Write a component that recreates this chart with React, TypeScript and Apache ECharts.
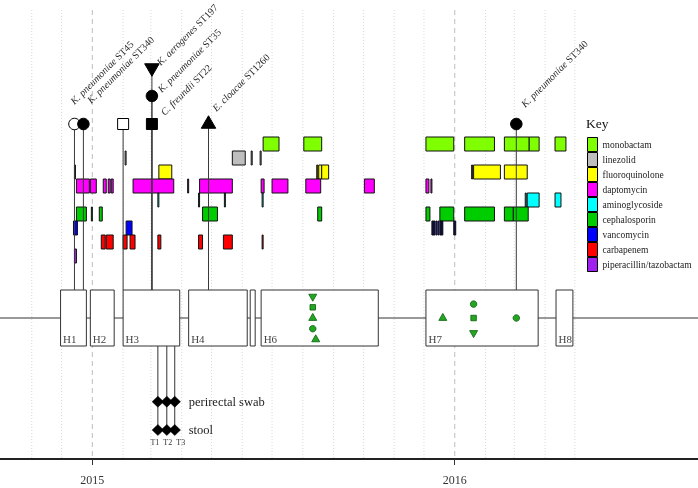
import { useEffect, useRef } from 'react';
import * as echarts from 'echarts';

const FONT = '"Liberation Serif", "Times New Roman", serif';

// ---------- axis ----------
const axisStart = '2014-09-30';
const axisEnd = '2016-09-02';
const yearTicks = ['2015-01-01', '2016-01-01'];

// ---------- hospitalisations ----------
const hospLabels = ['H1', 'H2', 'H3', 'H4', '', 'H6', 'H7', 'H8'];
const hospStart = ['2014-11-30', '2014-12-30', '2015-02-01', '2015-04-08', '2015-06-09', '2015-06-20', '2015-12-03', '2016-04-12'];
const hospEnd = ['2014-12-26', '2015-01-23', '2015-03-30', '2015-06-06', '2015-06-14', '2015-10-16', '2016-03-25', '2016-04-29'];

// ---------- antibiotics ----------
const drugs = ['monobactam', 'linezolid', 'fluoroquinolone', 'daptomycin', 'aminoglycoside', 'cephalosporin', 'vancomycin', 'carbapenem', 'piperacillin/tazobactam'];
const drugColors = ['#7fff00', '#bebebe', '#ffff00', '#ff00ff', '#00ffff', '#00cd00', '#0000ff', '#ff0000', '#a020f0'];

const monobactam = [['2015-06-22', '2015-07-08'], ['2015-08-02', '2015-08-20'], ['2015-12-03', '2015-12-31'], ['2016-01-11', '2016-02-10'], ['2016-02-20', '2016-03-16'], ['2016-03-16', '2016-03-26'], ['2016-04-11', '2016-04-22']];
const linezolid = [['2015-02-03', '2015-02-04'], ['2015-05-22', '2015-06-04'], ['2015-06-10', '2015-06-11'], ['2015-06-19', '2015-06-20']];
const fluoroquinolone = [['2014-12-14', '2014-12-15'], ['2015-03-09', '2015-03-22'], ['2015-08-15', '2015-08-16'], ['2015-08-17', '2015-08-20'], ['2015-08-20', '2015-08-27'], ['2016-01-18', '2016-01-19'], ['2016-01-20', '2016-02-16'], ['2016-02-20', '2016-03-14']];
const daptomycin = [['2014-12-16', '2014-12-29'], ['2014-12-30', '2015-01-05'], ['2015-01-12', '2015-01-15'], ['2015-01-17', '2015-01-19'], ['2015-01-20', '2015-01-22'], ['2015-02-11', '2015-03-24'], ['2015-04-07', '2015-04-08'], ['2015-04-19', '2015-05-22'], ['2015-06-20', '2015-06-23'], ['2015-07-01', '2015-07-17'], ['2015-08-04', '2015-08-19'], ['2015-10-02', '2015-10-12'], ['2015-12-03', '2015-12-06'], ['2015-12-08', '2015-12-09']];
const aminoglycoside = [['2015-03-08', '2015-03-09'], ['2015-04-18', '2015-04-19'], ['2015-05-14', '2015-05-15'], ['2015-06-21', '2015-06-22'], ['2016-03-12', '2016-03-13'], ['2016-03-14', '2016-03-26'], ['2016-04-11', '2016-04-17']];
const cephalosporin = [['2014-12-16', '2014-12-26'], ['2014-12-31', '2015-01-01'], ['2015-01-08', '2015-01-11'], ['2015-04-22', '2015-05-07'], ['2015-08-16', '2015-08-20'], ['2015-12-03', '2015-12-07'], ['2015-12-17', '2015-12-31'], ['2016-01-11', '2016-02-10'], ['2016-02-20', '2016-02-29'], ['2016-02-29', '2016-03-15']];
const vancomycin = [['2014-12-13', '2014-12-17'], ['2015-02-04', '2015-02-10'], ['2015-12-09', '2015-12-10'], ['2015-12-10', '2015-12-11'], ['2015-12-11', '2015-12-12'], ['2015-12-13', '2015-12-14'], ['2015-12-15', '2015-12-16'], ['2015-12-17', '2015-12-18'], ['2015-12-18', '2015-12-19'], ['2015-12-19', '2015-12-20'], ['2015-12-31', '2016-01-01'], ['2016-01-01', '2016-01-02']];
const carbapenem = [['2015-01-10', '2015-01-14'], ['2015-01-15', '2015-01-22'], ['2015-02-01', '2015-02-05'], ['2015-02-08', '2015-02-13'], ['2015-03-08', '2015-03-11'], ['2015-04-18', '2015-04-22'], ['2015-05-13', '2015-05-22'], ['2015-06-21', '2015-06-22']];
const piperacillinTazobactam = [['2014-12-14', '2014-12-16']];
const drugCourses = [monobactam, linezolid, fluoroquinolone, daptomycin, aminoglycoside, cephalosporin, vancomycin, carbapenem, piperacillinTazobactam];

// ---------- clinical isolates ----------
const isolateNames = ['K. pneumoniae ST45', 'K. pneumoniae ST340', '', 'K. aerogenes ST197', 'K. pneumoniae ST35', 'C. freundii ST22', 'E. cloacae ST1260', 'K. pneumoniae ST340'];
const isolateDates = ['2014-12-14', '2014-12-23', '2015-02-01', '2015-03-02', '2015-03-02', '2015-03-02', '2015-04-28', '2016-03-03'];
const isolateSymbols = ['circle', 'circle', 'square', 'triangleDown', 'circle', 'square', 'triangle', 'circle'];
const isolateFilled = [false, true, false, true, true, true, true, true];
const isolateLevel = [0, 0, 0, 2, 1, 0, 0, 0];
// label placement (style)
const isolateLabelDx = [1, 9, 0, 10, 11, 14, 9, 10];
const isolateLabelDy = [-18, -19, 0, -1, -2, -7, -11, -15];

// ---------- surveillance detections ----------
const survDates = ['2015-08-11', '2015-08-11', '2015-08-11', '2015-08-11', '2015-08-14', '2015-12-20', '2016-01-20', '2016-01-20', '2016-01-20', '2016-03-03'];
const survSymbols = ['triangleDown', 'square', 'triangle', 'circle', 'triangle', 'triangle', 'circle', 'square', 'triangleDown', 'circle'];
const survSlot = [-2, -1, 0, 1, 2, 0, -1.3, 0, 1.4, 0];

// ---------- screening tests ----------
const testNames = ['T1', 'T2', 'T3'];
const testDates = ['2015-03-08', '2015-03-17', '2015-03-25'];
const sampleTypes = ['perirectal swab', 'stool'];
const testLabelDx = [-3, 1, 6];

// ---------- layout (pixel rows on the y axis) ----------
const AXIS_Y = 459;
const GRID_TOP = 10;
const ISO_Y0 = 124;
const ISO_STEP = 28;
const DRUG_TOP = 137;
const ROW_H = 14;
const BOX_TOP = 290;
const BOX_BOTTOM = 346;
const LINE_Y = 318;
const SURV_STEP = 10.7;
const SAMPLE_Y = [401.7, 430];
const T_LABEL_Y = 442;

const t = (s: string) => Date.UTC(+s.slice(0, 4), +s.slice(5, 7) - 1, +s.slice(8, 10));

const gridMonths: number[] = [];
{
  let y = 2014, m = 10;
  while (y < 2016 || (y === 2016 && m <= 4)) {
    gridMonths.push(Date.UTC(y, m, 1));
    m++;
    if (m > 11) { m = 0; y++; }
  }
}

function marker(sym: string, cx: number, cy: number, w: number, h: number, style: any, z2 = 10): any {
  switch (sym) {
    case 'circle':
      return { type: 'circle', z2, shape: { cx, cy, r: w / 2 }, style };
    case 'square':
      return { type: 'rect', z2, shape: { x: cx - w / 2, y: cy - w / 2, width: w, height: w }, style };
    case 'triangle':
      return { type: 'polygon', z2, shape: { points: [[cx, cy - h * 0.66], [cx + w / 2, cy + h * 0.34], [cx - w / 2, cy + h * 0.34]] }, style };
    case 'triangleDown':
      return { type: 'polygon', z2, shape: { points: [[cx, cy + h * 0.66], [cx + w / 2, cy - h * 0.34], [cx - w / 2, cy - h * 0.34]] }, style };
    default:
      return { type: 'polygon', z2, shape: { points: [[cx, cy - h / 2], [cx + w / 2, cy], [cx, cy + h / 2], [cx - w / 2, cy]] }, style };
  }
}

function buildOption(): any {
  const series: any[] = [];

  // month grid lines
  series.push({
    type: 'custom', silent: true, z: 1,
    data: gridMonths.map((v) => [v, 0]),
    encode: { x: 0, y: 1 },
    renderItem: (p: any, api: any) => {
      const v = api.value(0);
      const isYear = new Date(v).getUTCMonth() === 0;
      const a = api.coord([v, GRID_TOP]);
      const b = api.coord([v, AXIS_Y]);
      return {
        type: 'line',
        shape: { x1: a[0], y1: a[1], x2: b[0], y2: b[1] },
        style: { stroke: isYear ? '#bdbdbd' : '#d9d9d9', lineWidth: 1, lineDash: isYear ? [5, 4] : [1, 2] },
      };
    },
  });

  // patient timeline
  series.push({
    type: 'custom', silent: true, z: 2,
    data: [[t(axisStart), t(axisEnd), 0]],
    encode: { x: [0, 1], y: 2 },
    renderItem: (p: any, api: any) => {
      const a = api.coord([api.value(0), LINE_Y]);
      const b = api.coord([api.value(1), LINE_Y]);
      return { type: 'line', shape: { x1: a[0], y1: a[1], x2: b[0], y2: b[1] }, style: { stroke: '#333', lineWidth: 1 } };
    },
  });

  // hospitalisation boxes
  series.push({
    type: 'custom', silent: true, z: 3,
    data: hospStart.map((s, i) => [t(s), t(hospEnd[i]), 0]),
    encode: { x: [0, 1], y: 2 },
    renderItem: (p: any, api: any) => {
      const i = p.dataIndex;
      const a = api.coord([api.value(0), BOX_TOP]);
      const b = api.coord([api.value(1), BOX_BOTTOM]);
      const children: any[] = [
        { type: 'rect', shape: { x: a[0], y: a[1], width: b[0] - a[0], height: b[1] - a[1] }, style: { fill: '#fff', stroke: '#333', lineWidth: 1 } },
      ];
      if (hospLabels[i]) {
        children.push({
          type: 'text', x: a[0] + 2.5, y: b[1] - 7,
          style: { text: hospLabels[i], fontFamily: FONT, fontSize: 11, fill: '#444', align: 'left', verticalAlign: 'middle' },
        });
      }
      return { type: 'group', children };
    },
  });

  // antibiotic courses
  drugs.forEach((name, k) => {
    const top = DRUG_TOP + k * ROW_H;
    const color = drugColors[k];
    series.push({
      name, type: 'custom', silent: true, z: 4,
      itemStyle: { color, borderColor: '#000', borderWidth: 1 },
      data: drugCourses[k].map((c) => [t(c[0]), t(c[1]), 0]),
      encode: { x: [0, 1], y: 2 },
      renderItem: (p: any, api: any) => {
        const a = api.coord([api.value(0), top]);
        const b = api.coord([api.value(1), top + ROW_H]);
        return {
          type: 'rect',
          shape: { x: a[0], y: a[1], width: Math.max(b[0] - a[0], 1), height: b[1] - a[1] },
          style: { fill: color, stroke: '#111', lineWidth: 1 },
        };
      },
    });
  });

  // clinical isolates
  series.push({
    type: 'custom', silent: true, z: 5,
    data: isolateDates.map((d) => [t(d), 0]),
    encode: { x: 0, y: 1 },
    renderItem: (p: any, api: any) => {
      const i = p.dataIndex;
      const yv = ISO_Y0 - isolateLevel[i] * ISO_STEP;
      const c = api.coord([api.value(0), yv]);
      const b = api.coord([api.value(0), BOX_TOP]);
      const filled = isolateFilled[i];
      const st = { fill: filled ? '#000' : '#fff', stroke: '#000', lineWidth: 1 };
      const sym = isolateSymbols[i];
      const w = sym === 'circle' ? 11.5 : sym === 'square' ? 11 : 14.5;
      const children: any[] = [
        { type: 'line', z2: 1, shape: { x1: c[0], y1: c[1], x2: b[0], y2: b[1] }, style: { stroke: '#3a3a3a', lineWidth: 1 } },
        marker(sym, c[0], c[1], w, 12.5, st, 10),
      ];
      const name = isolateNames[i];
      if (name) {
        const cut = name.lastIndexOf(' ');
        children.push({
          type: 'text', z2: 12,
          x: c[0] + isolateLabelDx[i], y: c[1] + isolateLabelDy[i],
          rotation: Math.PI / 4,
          style: {
            text: '{i|' + name.slice(0, cut) + '} ' + name.slice(cut + 1),
            rich: { i: { fontStyle: 'italic', fontFamily: FONT, fontSize: 10, fill: '#2a2a2a' } },
            fontFamily: FONT, fontSize: 10, fill: '#2a2a2a', align: 'left', verticalAlign: 'bottom',
          },
        });
      }
      return { type: 'group', children };
    },
  });

  // surveillance detections inside boxes
  series.push({
    type: 'custom', silent: true, z: 6,
    data: survDates.map((d) => [t(d), 0]),
    encode: { x: 0, y: 1 },
    renderItem: (p: any, api: any) => {
      const i = p.dataIndex;
      const c = api.coord([api.value(0), LINE_Y + survSlot[i] * SURV_STEP]);
      const sym = survSymbols[i];
      const w = sym === 'circle' ? 6.5 : sym === 'square' ? 5.5 : 8;
      return marker(sym, c[0], c[1], w, 7, { fill: '#22a722', stroke: '#0c5c0c', lineWidth: 0.8 }, 10);
    },
  });

  // screening tests
  series.push({
    type: 'custom', silent: true, z: 6,
    data: testDates.map((d) => [t(d), 0]),
    encode: { x: 0, y: 1 },
    renderItem: (p: any, api: any) => {
      const i = p.dataIndex;
      const top = api.coord([api.value(0), BOX_BOTTOM]);
      const bot = api.coord([api.value(0), SAMPLE_Y[SAMPLE_Y.length - 1]]);
      const children: any[] = [
        { type: 'line', z2: 1, shape: { x1: top[0], y1: top[1], x2: bot[0], y2: bot[1] }, style: { stroke: '#333', lineWidth: 1 } },
      ];
      SAMPLE_Y.forEach((sy) => {
        const c = api.coord([api.value(0), sy]);
        children.push(marker('diamond', c[0], c[1], 11.5, 11, { fill: '#000', stroke: '#000', lineWidth: 0.5 }, 10));
      });
      const lp = api.coord([api.value(0), T_LABEL_Y]);
      children.push({
        type: 'text', z2: 12, x: lp[0] + testLabelDx[i], y: lp[1],
        style: { text: testNames[i], fontFamily: FONT, fontSize: 8, fill: '#333', align: 'center', verticalAlign: 'middle' },
      });
      if (i === testDates.length - 1) {
        SAMPLE_Y.forEach((sy, k) => {
          const c = api.coord([api.value(0), sy]);
          children.push({
            type: 'text', z2: 12, x: c[0] + 14, y: c[1],
            style: { text: sampleTypes[k], fontFamily: FONT, fontSize: 12.5, fill: '#222', align: 'left', verticalAlign: 'middle' },
          });
        });
      }
      return { type: 'group', children };
    },
  });

  return {
    animation: false,
    title: {
      text: 'Key', left: 586, top: 116, padding: 0,
      textStyle: { fontFamily: FONT, fontSize: 13.5, fontWeight: 'normal', color: '#111' },
    },
    legend: {
      orient: 'vertical', left: 587, top: 137, padding: 0,
      itemWidth: 10, itemHeight: 14, itemGap: 0, icon: 'rect', selectedMode: false,
      itemStyle: { borderColor: '#000', borderWidth: 1 },
      textStyle: { fontFamily: FONT, fontSize: 9.5, color: '#222' },
      data: drugs,
    },
    grid: { left: 0, right: 0, top: 0, bottom: 488 - AXIS_Y, containLabel: false },
    xAxis: {
      type: 'value', min: t(axisStart), max: t(axisEnd), scale: true,
      splitLine: { show: false },
      axisLine: { show: true, onZero: false, lineStyle: { color: '#222', width: 2 } },
      axisTick: { show: true, customValues: yearTicks.map(t), length: 6, lineStyle: { color: '#333', width: 1 } },
      axisLabel: {
        show: true, customValues: yearTicks.map(t), margin: 15,
        formatter: (v: number) => String(new Date(v).getUTCFullYear()),
        fontFamily: FONT, fontSize: 12, color: '#333',
      },
    },
    yAxis: { type: 'value', min: 0, max: AXIS_Y, inverse: true, show: false },
    series,
  };
}

export default function App() {
  const ref = useRef<HTMLDivElement>(null);
  useEffect(() => {
    const chart = echarts.init(ref.current!, null, { renderer: 'svg' });
    chart.setOption(buildOption());
    return () => chart.dispose();
  }, []);
  return <div ref={ref} style={{ position: 'fixed', left: 0, top: 0, width: 698, height: 488 }} />;
}
